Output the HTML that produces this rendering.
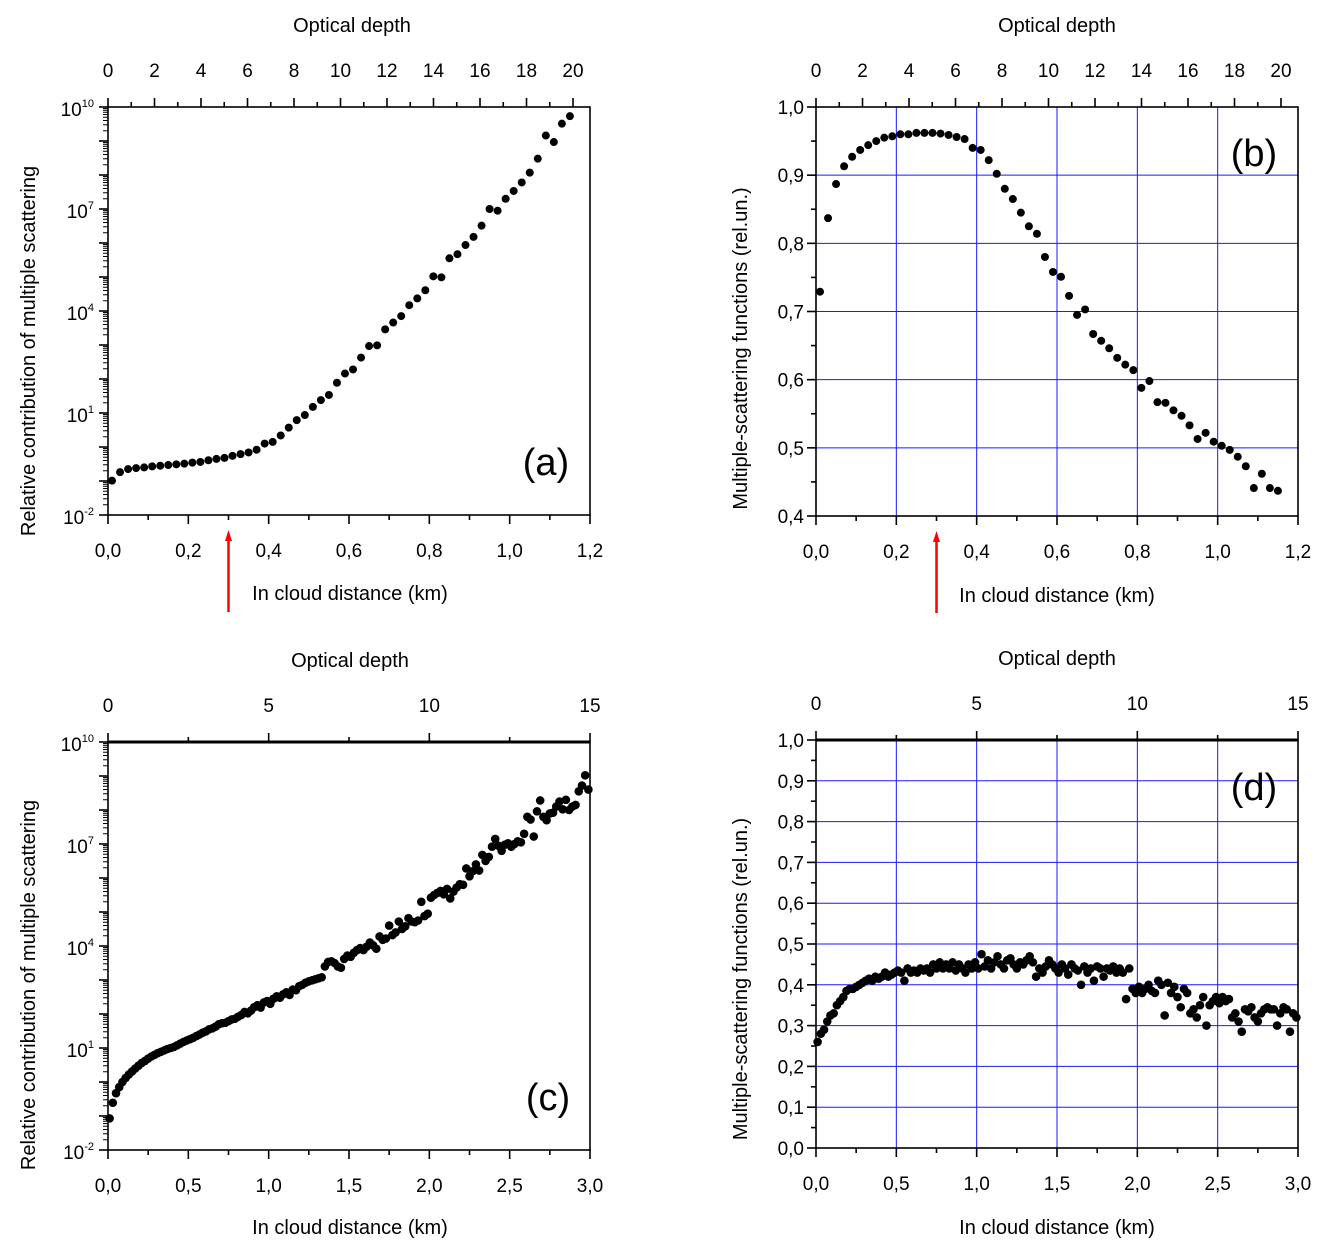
<!DOCTYPE html>
<html><head><meta charset="utf-8">
<style>
html,body{margin:0;padding:0;background:#fff;}
svg{display:block;font-family:"Liberation Sans",Arial,sans-serif;}
</style></head>
<body>
<svg id="fig" width="1330" height="1257" viewBox="0 0 1330 1257" xmlns="http://www.w3.org/2000/svg"></svg>
<script>
// Panel (a): log10 of relative contribution vs in-cloud distance (km)
const aX = [0.01,0.03,0.05,0.07,0.09,0.11,0.13,0.15,0.17,0.19,0.21,0.23,0.25,0.27,0.29,0.31,0.33,0.35,0.37,0.39,0.41,0.43,0.45,0.47,0.49,0.51,0.53,0.55,0.57,0.59,0.61,0.63,0.65,0.67,0.69,0.71,0.73,0.75,0.77,0.79,0.81,0.83,0.85,0.87,0.89,0.91,0.93,0.95,0.97,0.99,1.01,1.03,1.05,1.07,1.09,1.11,1.13,1.15];
const aLog = [-0.99,-0.74,-0.65,-0.62,-0.60,-0.57,-0.55,-0.53,-0.51,-0.49,-0.46,-0.44,-0.39,-0.35,-0.32,-0.26,-0.21,-0.16,-0.08,0.10,0.15,0.34,0.57,0.79,0.94,1.18,1.38,1.53,1.89,2.16,2.28,2.63,2.97,2.99,3.46,3.66,3.85,4.17,4.37,4.61,5.02,4.99,5.55,5.67,5.94,6.18,6.51,7.00,6.95,7.30,7.53,7.78,8.07,8.48,9.16,8.97,9.51,9.73];
// Panel (b): multiple-scattering function
const bVal = [0.729,0.837,0.887,0.913,0.927,0.937,0.944,0.950,0.955,0.957,0.960,0.960,0.962,0.962,0.962,0.961,0.959,0.956,0.953,0.940,0.937,0.922,0.902,0.880,0.865,0.845,0.825,0.814,0.780,0.758,0.751,0.723,0.695,0.703,0.667,0.657,0.646,0.632,0.622,0.614,0.588,0.598,0.567,0.566,0.555,0.547,0.533,0.513,0.522,0.509,0.503,0.497,0.487,0.473,0.441,0.462,0.441,0.437];
// Panels (c)/(d): x from 0.01 to 2.99 step 0.02
const cLog = [-1.07,-0.61,-0.33,-0.15,0.0,0.12,0.22,0.31,0.40,0.48,
0.56,0.62,0.69,0.75,0.80,0.85,0.89,0.93,0.97,1.00,
1.03,1.08,1.13,1.18,1.22,1.26,1.30,1.35,1.40,1.45,
1.49,1.55,1.58,1.63,1.70,1.73,1.74,1.79,1.84,1.86,
1.92,1.97,2.06,2.02,2.10,2.20,2.26,2.19,2.34,2.38,
2.30,2.45,2.52,2.48,2.58,2.64,2.56,2.72,2.70,2.82,
2.86,2.92,2.96,2.99,3.02,3.05,3.08,3.40,3.53,3.55,
3.50,3.40,3.36,3.62,3.72,3.68,3.80,3.88,3.94,3.88,
3.98,4.10,4.02,3.92,4.28,4.18,4.22,4.60,4.32,4.40,
4.72,4.50,4.58,4.82,4.72,4.70,4.75,5.30,4.88,4.95,
5.42,5.50,5.56,5.62,5.52,5.68,5.40,5.60,5.72,5.82,
5.80,6.28,6.05,6.20,6.40,6.22,6.68,6.50,6.62,6.92,
7.15,6.95,6.80,6.98,7.02,6.92,7.00,7.08,7.05,7.30,
7.80,7.72,7.22,7.96,8.28,7.80,7.70,7.90,7.92,8.10,
8.25,8.02,8.30,8.00,8.10,8.15,8.55,8.72,9.02,8.60];
const dVal = [0.26,0.28,0.29,0.31,0.325,0.33,0.35,0.36,0.37,0.385,
0.39,0.39,0.395,0.40,0.405,0.41,0.415,0.41,0.42,0.415,
0.42,0.43,0.42,0.425,0.43,0.435,0.43,0.41,0.44,0.43,
0.435,0.43,0.44,0.435,0.44,0.43,0.45,0.44,0.455,0.44,
0.45,0.44,0.455,0.435,0.45,0.44,0.43,0.45,0.44,0.455,
0.44,0.475,0.445,0.46,0.44,0.455,0.47,0.45,0.44,0.46,
0.465,0.45,0.44,0.455,0.45,0.46,0.47,0.455,0.42,0.44,
0.43,0.445,0.46,0.45,0.44,0.43,0.45,0.44,0.425,0.45,
0.44,0.435,0.40,0.445,0.43,0.44,0.41,0.445,0.44,0.42,
0.44,0.435,0.445,0.43,0.44,0.43,0.365,0.44,0.39,0.38,
0.395,0.38,0.39,0.40,0.385,0.38,0.41,0.40,0.325,0.405,
0.38,0.395,0.37,0.345,0.39,0.38,0.33,0.34,0.32,0.35,
0.37,0.30,0.35,0.36,0.37,0.355,0.37,0.36,0.365,0.32,
0.33,0.31,0.285,0.34,0.335,0.345,0.32,0.31,0.33,0.34,
0.345,0.34,0.34,0.30,0.33,0.345,0.34,0.285,0.33,0.32];
const topTicks20 = ['0','2','4','6','8','10','12','14','16','18','20'];
const topTicks15 = ['0','5','10','15'];
const botTicks12 = ['0,0','0,2','0,4','0,6','0,8','1,0','1,2'];
const botTicks3 = ['0,0','0,5','1,0','1,5','2,0','2,5','3,0'];
const linTicksB = ['0,4','0,5','0,6','0,7','0,8','0,9','1,0'];
const linTicksD = ['0,0','0,1','0,2','0,3','0,4','0,5','0,6','0,7','0,8','0,9','1,0'];

const NS='http://www.w3.org/2000/svg';
const svg=document.getElementById('fig');
function mk(tag,attrs,parent,text){const e=document.createElementNS(NS,tag);for(const k in attrs)e.setAttribute(k,attrs[k]);if(text!==undefined)e.textContent=text;(parent||svg).appendChild(e);return e;}
function line(g,x1,y1,x2,y2,stroke,w){return mk('line',{x1,y1,x2,y2,stroke,'stroke-width':w},g);}

const cxC = 0.02;
const cdX = cLog.map((_,i)=>0.01+i*cxC);
const TF=19, TTF=20;

function panel(o){
  const g=mk('g',{});
  
  
  const L=o.L,R=o.R,T=o.T,B=o.B;
  const xs=v=>L+(v-o.xmin)/(o.xmax-o.xmin)*(R-L);
  const ys=v=>B-(v-o.ymin)/(o.ymax-o.ymin)*(B-T);
  if(o.gridX){o.gridX.forEach(v=>{const l=line(g,xs(v),T,xs(v),B,'#1a1aff',1);});}
  if(o.gridY){o.gridY.forEach(v=>{const l=line(g,L,ys(v),R,ys(v),'#1a1aff',1);});}
  const fr=mk('rect',{x:L,y:T,width:R-L,height:B-T,fill:'none',stroke:'#000','stroke-width':1.6},g);
  
  
  if(o.thickTop) line(g,L,T,R,T,'#000',3);
  const bn=o.botLabels.length-1;
  for(let i=0;i<=bn*2;i++){
    const v=o.xmin+(o.xmax-o.xmin)*i/(bn*2);
    const major=i%2===0;
    line(g,xs(v),B,xs(v),B+(major?9:5),'#000',1.6);
  }
  o.botLabels.forEach((t,i)=>{
    const v=o.xmin+(o.xmax-o.xmin)*i/bn;
    const tx=mk('text',{x:xs(v),y:B+42,'font-size':TF,'text-anchor':'middle',fill:'#000'},g,t);
    
    
  });
  const tn=o.topLabels.length-1;
  const topX=v=>L+v/o.topMax*(o.topR-L);
  const tStep=o.topMax/tn;
  for(let i=0;i<=tn*2;i++){
    const v=tStep*i/2;
    const major=i%2===0;
    line(g,topX(v),T,topX(v),T-(major?9:5),'#000',1.6);
  }
  o.topLabels.forEach((t,i)=>{
    const tx=mk('text',{x:topX(tStep*i),y:T-30,'font-size':TF,'text-anchor':'middle',fill:'#000'},g,t);
    
    
  });
  const tt=mk('text',{x:o.topTitleX,y:T-o.topTitleDy,'font-size':TTF,'text-anchor':'middle',fill:'#000'},g,'Optical depth');
  
  
  if(o.log){
    for(let d=o.ymin;d<o.ymax;d++){
      line(g,L,ys(d),L-9,ys(d),'#000',1.6);
      for(let k=2;k<=9;k++){const yy=ys(d+Math.log10(k));line(g,L,yy,L-5,yy,'#000',1);}
    }
    line(g,L,ys(o.ymax),L-9,ys(o.ymax),'#000',1.6);
    [-2,1,4,7,10].forEach(p=>{
      const tx=mk('text',{x:L-14,y:ys(p)+9,'font-size':TF,'text-anchor':'end',fill:'#000'},g);
      
      
      mk('tspan',{},tx,'10');
      mk('tspan',{'font-size':11,dy:-9},tx,String(p));
    });
  } else {
    const n=o.leftLabels.length-1;
    for(let i=0;i<=n*2;i++){
      const v=o.ymin+(o.ymax-o.ymin)*i/(n*2);
      line(g,L,ys(v),L-(i%2===0?9:5),ys(v),'#000',1.6);
    }
    o.leftLabels.forEach((t,i)=>{
      const v=o.ymin+(o.ymax-o.ymin)*i/n;
      const tx=mk('text',{x:L-12,y:ys(v)+7,'font-size':TF,'text-anchor':'end',fill:'#000'},g,t);
      
      
    });
  }
  const yt=mk('text',{x:0,y:0,'font-size':TTF,'text-anchor':'middle',fill:'#000',transform:`translate(${o.yTitleX},${(T+B)/2+o.yTitleShift}) rotate(-90)`},g,o.yTitle);
  
  
  const xt=mk('text',{x:o.xTitleX,y:o.xTitleY,'font-size':TTF,'text-anchor':'middle',fill:'#000'},g,'In cloud distance (km)');
  
  
  const pl=mk('text',{x:o.tagX,y:o.tagY,'font-size':38,'text-anchor':'middle',fill:'#000'},g,o.tag);
  
  
  o.xv.forEach((x,i)=>{
    const c=mk('circle',{cx:xs(x),cy:ys(o.yv[i]),r:o.r,fill:'#000'},g);
    
    
  });
  if(o.arrow!==undefined){
    const ax=xs(o.arrow);
    const a=mk('g',{},g);
    
    
    line(a,ax,B+22,ax,B+97,'#ff0000',2.5);
    mk('polygon',{points:`${ax-3.5},${B+26} ${ax+3.5},${B+26} ${ax},${B+15}`,fill:'#ff0000'},a);
  }
}

panel({name:'panel-a',L:108,R:590,T:107,B:515,xmin:0,xmax:1.2,ymin:-2,ymax:10,log:true,
  topMax:20,topR:573,topLabels:topTicks20,topTitleX:352,topTitleDy:75,botLabels:botTicks12,
  yTitle:'Relative contribution of multiple scattering',yTitleX:35,yTitleShift:40,xTitleX:350,xTitleY:600,
  tag:'(a)',tagX:546,tagY:475,xv:aX,yv:aLog,r:4,arrow:0.3});
panel({name:'panel-b',L:816,R:1298,T:107,B:516,xmin:0,xmax:1.2,ymin:0.4,ymax:1.0,
  leftLabels:linTicksB,gridX:[0.2,0.4,0.6,0.8,1.0],gridY:[0.5,0.6,0.7,0.8,0.9],
  topMax:20,topR:1281,topLabels:topTicks20,topTitleX:1057,topTitleDy:75,botLabels:botTicks12,
  yTitle:'Multiple-scattering functions (rel.un.)',yTitleX:747,yTitleShift:37,xTitleX:1057,xTitleY:602,
  tag:'(b)',tagX:1254,tagY:166,xv:aX,yv:bVal,r:4,arrow:0.3});
panel({name:'panel-c',L:108,R:590,T:742,B:1150,xmin:0,xmax:3.0,ymin:-2,ymax:10,log:true,thickTop:true,
  topMax:15,topR:590,topLabels:topTicks15,topTitleX:350,topTitleDy:75,botLabels:botTicks3,
  yTitle:'Relative contribution of multiple scattering',yTitleX:35,yTitleShift:39,xTitleX:350,xTitleY:1234,
  tag:'(c)',tagX:548,tagY:1110,xv:cdX,yv:cLog,r:4.3});
panel({name:'panel-d',L:816,R:1298,T:740,B:1148,xmin:0,xmax:3.0,ymin:0,ymax:1.0,thickTop:true,
  leftLabels:linTicksD,gridX:[0.5,1.0,1.5,2.0,2.5],gridY:[0.1,0.2,0.3,0.4,0.5,0.6,0.7,0.8,0.9],
  topMax:15,topR:1298,topLabels:topTicks15,topTitleX:1057,topTitleDy:75,botLabels:botTicks3,
  yTitle:'Multiple-scattering functions (rel.un.)',yTitleX:747,yTitleShift:35,xTitleX:1057,xTitleY:1234,
  tag:'(d)',tagX:1254,tagY:800,xv:cdX,yv:dVal,r:4.3});
</script>
</body></html>
